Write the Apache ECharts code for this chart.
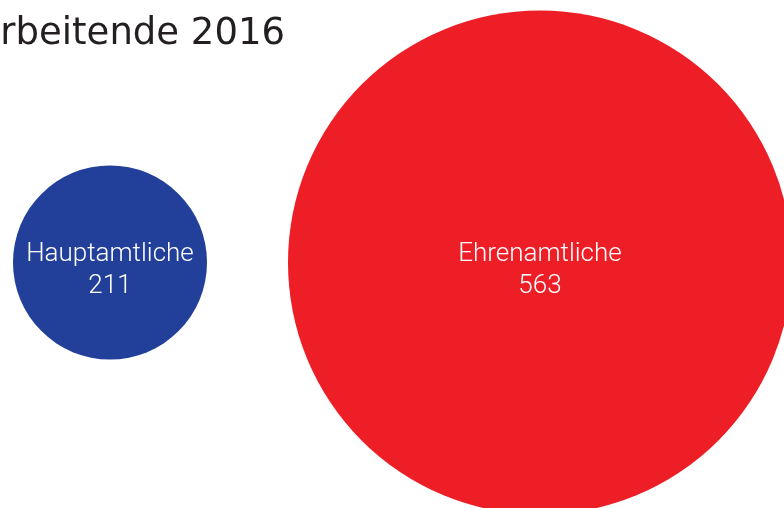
<!DOCTYPE html>
<html>
<head>
<meta charset="utf-8">
<script src="https://cdn.jsdelivr.net/npm/echarts@6/dist/echarts.min.js"></script>
<style>
  html, body { margin: 0; padding: 0; background: #ffffff; }
  #chart { width: 784px; height: 508px; }
</style>
</head>
<body>
<div id="chart"></div>
<script>
// Mitarbeitende 2016: staff headcount by type
const categories = ['Hauptamtliche', 'Ehrenamtliche'];
const counts = [211, 563];
const colors = ['#22409a', '#ed1e26'];
const titleText = 'Mitarbeitende 2016';

// circle diameter grows linearly with the headcount
const diameterPerPerson = 0.8807;
const diameterBase = 8.2;

const chart = echarts.init(document.getElementById('chart'), null, { renderer: 'canvas' });

chart.setOption({
  animation: false,
  backgroundColor: '#ffffff',
  title: {
    text: titleText,
    right: 499,
    top: 16,
    padding: 0,
    textStyle: {
      fontFamily: 'DejaVu Sans, sans-serif',
      fontSize: 37,
      fontWeight: 'normal',
      color: '#231f20'
    }
  },
  grid: { left: -105, width: 860, top: 0, height: 525, outerBoundsMode: 'none' },
  xAxis: {
    type: 'category',
    data: categories,
    boundaryGap: true,
    show: false
  },
  yAxis: {
    type: 'value',
    min: -1,
    max: 1,
    show: false
  },
  series: [{
    type: 'scatter',
    symbol: 'circle',
    data: categories.map((name, i) => ({
      name: name,
      value: [name, 0, counts[i]],
      itemStyle: { color: colors[i], opacity: 1 }
    })),
    symbolSize: (val) => val[2] * diameterPerPerson + diameterBase,
    label: {
      show: true,
      position: 'inside',
      formatter: (p) => p.name + '\n' + p.value[2],
      color: '#ffffff',
      fontFamily: 'Roboto, Liberation Sans, sans-serif',
      fontWeight: 300,
      fontSize: 26,
      lineHeight: 32,
      align: 'center',
      offset: [0, 8]
    },
    emphasis: { disabled: true }
  }]
});
</script>
</body>
</html>
